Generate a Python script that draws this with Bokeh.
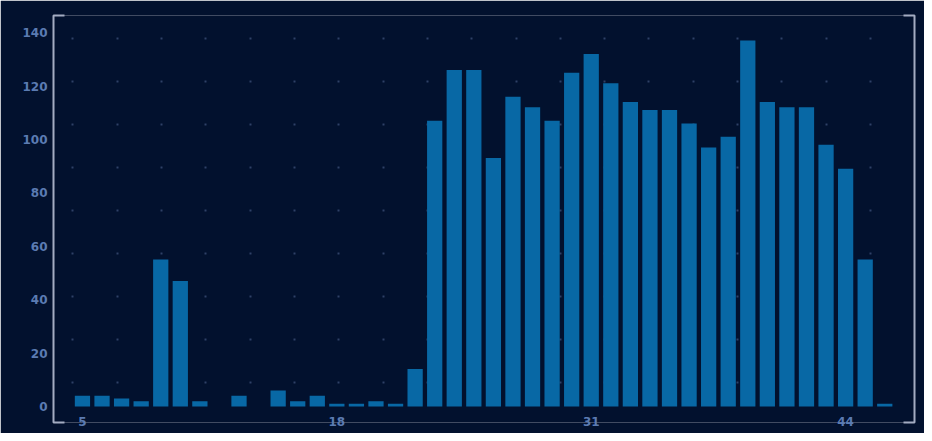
from bokeh.plotting import figure
from bokeh.models import Range1d, FixedTicker, Grid, ColumnDataSource
from bokeh.embed import file_html
from bokeh.resources import INLINE
import numpy as np

# ---- data ----
categories = list(range(5, 47))
values = [4, 4, 3, 2, 55, 47, 2, 0, 4, 0, 6, 2, 4, 1, 1, 2, 1, 14,
          107, 126, 126, 93, 116, 112, 107, 125, 132, 121, 114, 111, 111,
          106, 97, 101, 137, 114, 112, 112, 98, 89, 55, 1]
x_tick_labels = [5, 18, 31, 44]
y_ticks = [0, 20, 40, 60, 80, 100, 120, 140]

BG = "#02112e"
BAR = "#0868a5"
LABEL = "#5b7bb2"
BRACKET = "#a3acc2"

W, H = 924, 433
p = figure(width=W, height=H, output_backend="svg", toolbar_location=None,
           x_range=Range1d(3.52, 47.52), y_range=Range1d(-6.0, 146.4),
           min_border_left=53, min_border_right=10, min_border_top=15, min_border_bottom=11)
p.background_fill_color = BG
p.border_fill_color = BG
p.grid.visible = False

# bracket-style frame via dashed outline
p.outline_line_color = BRACKET
p.outline_line_width = 2
p.outline_line_dash = "11 839 429 839 418"

# decorative dot grid
dot_x = list(4.506 + 2.265 * np.arange(19))
dots = Grid(dimension=0, ticker=FixedTicker(ticks=dot_x),
            grid_line_color="#2e4166", grid_line_width=2,
            grid_line_dash="2 41", grid_line_dash_offset=4)
p.add_layout(dots)

src = ColumnDataSource(dict(x=categories, top=values))
p.vbar(x="x", top="top", bottom=0, width=0.78, source=src,
       fill_color=BAR, line_color=None)

# axes
for ax in (p.yaxis, p.xaxis):
    ax.axis_line_color = None
    ax.major_tick_line_color = None
    ax.minor_tick_line_color = None
    ax.major_tick_out = 0
    ax.major_tick_in = 0
    ax.major_label_text_color = LABEL
    ax.major_label_text_font = "DejaVu Sans"
    ax.major_label_text_font_style = "bold"
    ax.major_label_text_font_size = "12px"

p.yaxis.ticker = FixedTicker(ticks=y_ticks)
p.yaxis.major_label_standoff = 6

p.xaxis.ticker = FixedTicker(ticks=x_tick_labels)
p.xaxis.major_label_standoff = -6

open("out.html", "w").write(file_html(p, INLINE))
